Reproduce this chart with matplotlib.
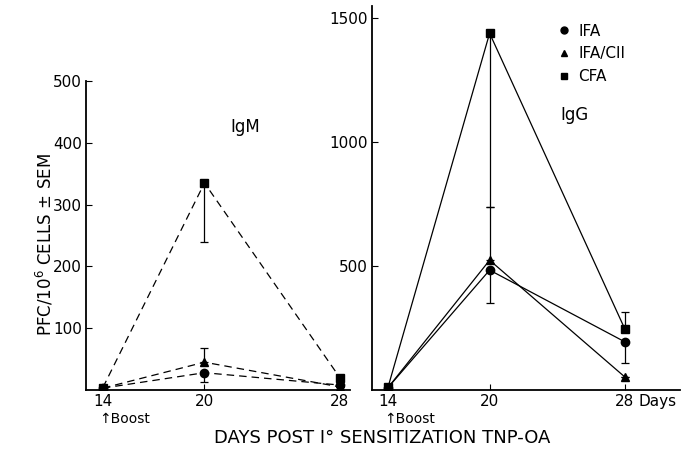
import matplotlib
matplotlib.use('Agg')
import matplotlib.pyplot as plt
from matplotlib.lines import Line2D

days = [14, 20, 28]
tick_labels = ['14', '20', '28']

# IgM panel (PFC / 10^6 cells)
igm_ifa = [3, 28, 8]
igm_ifa_cii = [3, 45, 5]
igm_cfa = [4, 335, 20]
# one-sided errors: (lower, upper)
igm_ifa_err = [[0, 15, 0], [0, 0, 0]]
igm_ifa_cii_err = [[0, 0, 0], [0, 23, 0]]
igm_cfa_err = [[0, 95, 0], [0, 0, 0]]

# IgG panel
igg_ifa = [10, 484, 194]
igg_ifa_cii = [10, 524, 52]
igg_cfa = [12, 1440, 245]
igg_ifa_err = [[0, 134, 85], [0, 0, 0]]
igg_ifa_cii_err = [[0, 0, 0], [0, 216, 0]]
igg_cfa_err = [[0, 700, 0], [0, 0, 70]]

series_labels = ['IFA', 'IFA/CII', 'CFA']
markers = ['o', '^', 's']

plt.rcParams['font.family'] = 'DejaVu Sans'
fig = plt.figure(figsize=(6.87, 4.51), dpi=100)
W, H = 687.0, 451.0
ax1 = fig.add_axes([86 / W, 1 - 390 / H, (350 - 86) / W, (390 - 81) / H])
ax2 = fig.add_axes([372 / W, 1 - 390 / H, (680 - 372) / W, (390 - 6) / H])

def draw(ax, vals, errs, ls):
    for v, e, m in zip(vals, errs, markers):
        ax.errorbar(days, v, yerr=e, fmt='-', color='k', lw=0.9, ls=ls,
                    marker=m, ms=6, elinewidth=0.9, capsize=3, capthick=0.9)

draw(ax1, [igm_ifa, igm_ifa_cii, igm_cfa], [igm_ifa_err, igm_ifa_cii_err, igm_cfa_err], (0, (6, 4)))
draw(ax2, [igg_ifa, igg_ifa_cii, igg_cfa], [igg_ifa_err, igg_ifa_cii_err, igg_cfa_err], '-')

ax1.set_xlim(13.0, 28.6)
ax1.set_ylim(0, 500)
ax1.set_yticks([100, 200, 300, 400, 500])
ax2.set_xlim(13.05, 31.25)
ax2.set_ylim(0, 1550)
ax2.set_yticks([500, 1000, 1500])

for ax in (ax1, ax2):
    for s in ('top', 'right'):
        ax.spines[s].set_visible(False)
    for s in ('left', 'bottom'):
        ax.spines[s].set_linewidth(1.3)
    ax.set_xticks(days)
    ax.set_xticklabels(tick_labels)
    ax.tick_params(direction='in', length=4, labelsize=11, pad=3)
    ax.patch.set_alpha(0)
    ax.annotate('\u2191Boost', xy=(13.75, 0), xycoords=ax.get_xaxis_transform(),
                xytext=(0, -21), textcoords='offset points',
                ha='left', va='center', fontsize=10)

ax2.annotate('Days', xy=(28, 0), xycoords=ax2.get_xaxis_transform(),
             xytext=(10, -8.5), textcoords='offset points',
             ha='left', va='center', fontsize=11)

ax1.text(22.4, 425, 'IgM', fontsize=12, ha='center', va='center')
ax2.text(25.0, 1110, 'IgG', fontsize=12, ha='center', va='center')

handles = [Line2D([], [], color='k', marker=m, ls='none', ms=5) for m in markers]
ax2.legend(handles, series_labels, loc='upper left', bbox_to_anchor=(0.56, 0.99),
           frameon=False, handlelength=0.8, handletextpad=0.5, labelspacing=0.5,
           fontsize=11)

fig.text(45 / W, 1 - 245 / H, 'PFC/10$^6$ CELLS \u00b1 SEM', rotation=90,
         ha='center', va='center', fontsize=12)
fig.text(382 / W, 1 - 438 / H, 'DAYS POST I\u00b0 SENSITIZATION TNP-OA',
         ha='center', va='center', fontsize=13)

fig.savefig('out.png', dpi=100)
